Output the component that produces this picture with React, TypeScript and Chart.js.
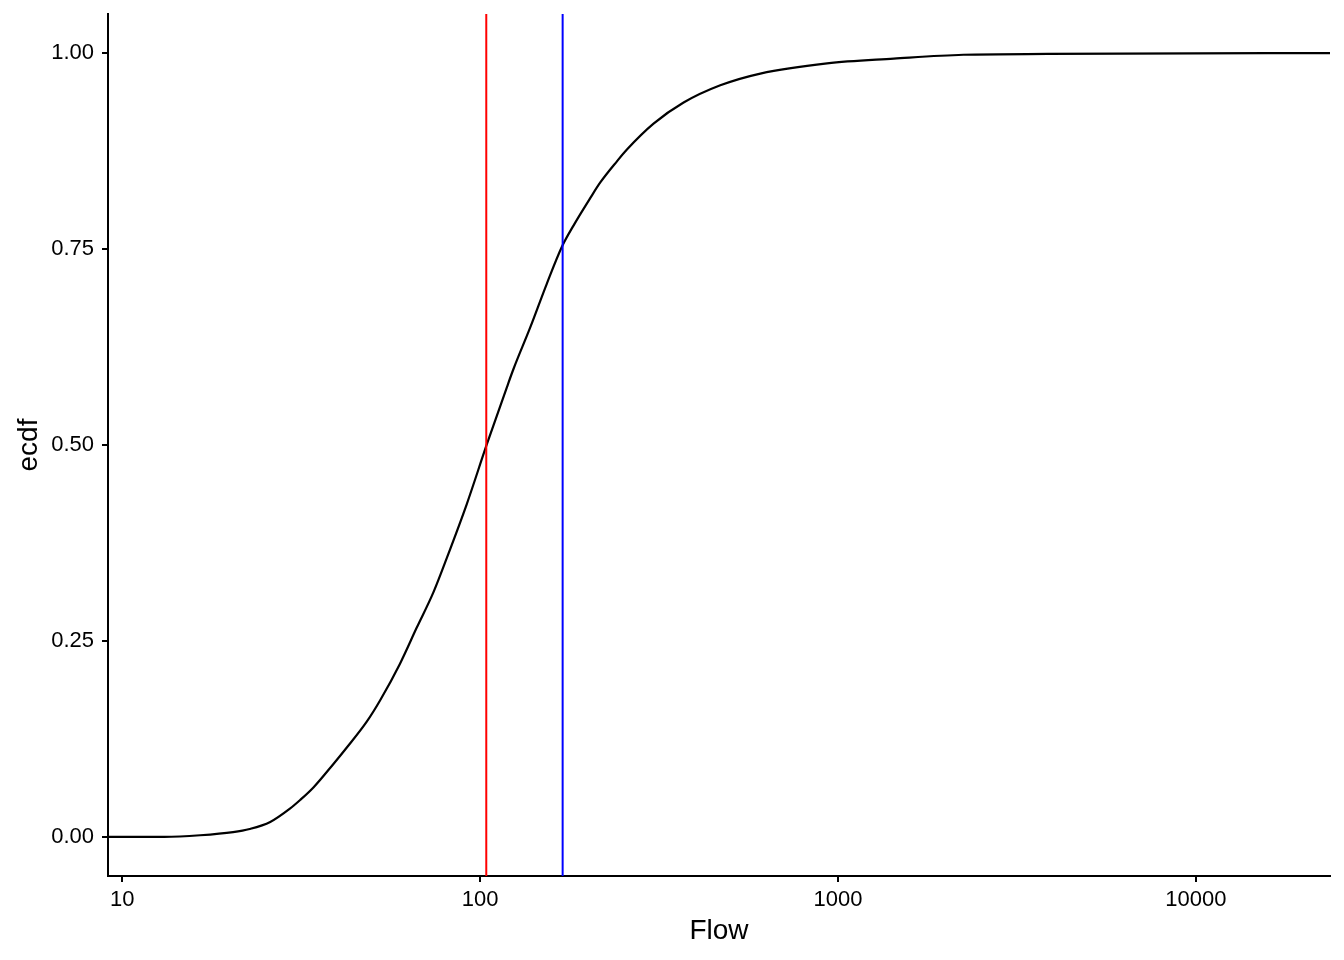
import React, { useEffect, useRef } from "react";
import { Chart, registerables } from "chart.js";

Chart.register(...registerables);

// ECDF of Flow (x = Flow, y = cumulative fraction)
const flowValues = [
  13.1, 16.5, 20.4, 22.7, 25.9, 29.4, 31.4, 34.2, 38.9, 42.4, 48.2, 52.5,
  59.7, 66.5, 74.0, 80.7, 91.8, 104.4, 118.8, 123.9, 138.0, 153.6, 169.2,
  182.3, 203, 216.6, 241.1, 257.1, 305.1, 370.2, 468.8, 606.6, 931.8, 1431,
  2240, 3847, 16640,
];
const ecdfValues = [
  0.0, 0.002, 0.006, 0.01, 0.019, 0.036, 0.047, 0.063, 0.093, 0.114, 0.147,
  0.174, 0.221, 0.267, 0.312, 0.356, 0.425, 0.501, 0.574, 0.597, 0.65, 0.706,
  0.753, 0.78, 0.815, 0.835, 0.862, 0.877, 0.91, 0.937, 0.959, 0.974, 0.987,
  0.993, 0.998, 0.999, 1.0,
];

// Vertical reference lines
const redLineFlow = 104;
const blueLineFlow = 170;

// Axis ticks
const xTicks = [10, 100, 1000, 10000];
const yTicks = [0, 0.25, 0.5, 0.75, 1.0];

// Axis ranges
const X_MIN = 9.12;
const X_MAX = 23700;
const Y_MIN = -0.05;
const Y_MAX = 1.05;

const FONT = "'Liberation Sans', Arial, Helvetica, sans-serif";

export default function App() {
  const canvasRef = useRef<HTMLCanvasElement | null>(null);

  useEffect(() => {
    document.body.style.margin = "0";
    const canvas = canvasRef.current;
    if (!canvas) return;

    const curve = [
      { x: X_MIN, y: 0 },
      ...flowValues.map((f, i) => ({ x: f, y: ecdfValues[i] })),
      { x: X_MAX, y: 1 },
    ];

    const chart = new Chart(canvas, {
      type: "scatter",
      data: {
        datasets: [
          {
            data: [
              { x: redLineFlow, y: Y_MIN },
              { x: redLineFlow, y: Y_MAX },
            ],
            showLine: true,
            borderColor: "#FF0000",
            borderWidth: 2,
            pointRadius: 0,
            order: 1,
          },
          {
            data: [
              { x: blueLineFlow, y: Y_MIN },
              { x: blueLineFlow, y: Y_MAX },
            ],
            showLine: true,
            borderColor: "#0000FF",
            borderWidth: 2,
            pointRadius: 0,
            order: 1,
          },
          {
            data: curve,
            showLine: true,
            borderColor: "#000000",
            borderWidth: 2.2,
            pointRadius: 0,
            cubicInterpolationMode: "monotone",
            order: 2,
          },
        ],
      },
      options: {
        responsive: false,
        animation: false,
        devicePixelRatio: 1,
        layout: { padding: { left: 0, right: 14, top: 14, bottom: 0 } },
        plugins: {
          legend: { display: false },
          tooltip: { enabled: false },
        },
        scales: {
          x: {
            type: "logarithmic",
            position: "bottom",
            min: X_MIN,
            max: X_MAX,
            afterBuildTicks: (scale: any) => {
              scale.ticks = xTicks.map((v) => ({ value: v }));
            },
            afterFit: (scale: any) => {
              scale.height = 84;
              scale.paddingLeft = 0;
              scale.paddingRight = 0;
            },
            ticks: {
              autoSkip: false,
              maxRotation: 0,
              padding: 5,
              color: "#000000",
              font: { family: FONT, size: 22 },
              callback: (v: any) => String(v),
            },
            grid: {
              display: true,
              drawOnChartArea: false,
              drawTicks: true,
              tickLength: 6,
              color: "#000000",
              lineWidth: 2,
            },
            border: { display: true, color: "#000000", width: 2 },
            title: {
              display: true,
              text: "Flow",
              color: "#000000",
              font: { family: FONT, size: 28 },
              padding: { top: 0, bottom: 12 },
            },
          },
          y: {
            type: "linear",
            position: "left",
            min: Y_MIN,
            max: Y_MAX,
            afterBuildTicks: (scale: any) => {
              scale.ticks = yTicks.map((v) => ({ value: v }));
            },
            afterFit: (scale: any) => {
              scale.width = 108;
              scale.paddingTop = 0;
              scale.paddingBottom = 0;
            },
            ticks: {
              padding: 8,
              color: "#000000",
              font: { family: FONT, size: 22 },
              callback: (v: any) => Number(v).toFixed(2),
            },
            grid: {
              display: true,
              drawOnChartArea: false,
              drawTicks: true,
              tickLength: 6,
              color: "#000000",
              lineWidth: 2,
            },
            border: { display: true, color: "#000000", width: 2 },
            title: {
              display: true,
              text: "ecdf",
              color: "#000000",
              font: { family: FONT, size: 28 },
              padding: { top: 12, bottom: 0 },
            },
          },
        },
      },
    });

    return () => chart.destroy();
  }, []);

  return (
    <div style={{ width: 1344, height: 960, background: "#FFFFFF" }}>
      <canvas ref={canvasRef} width={1344} height={960} />
    </div>
  );
}
